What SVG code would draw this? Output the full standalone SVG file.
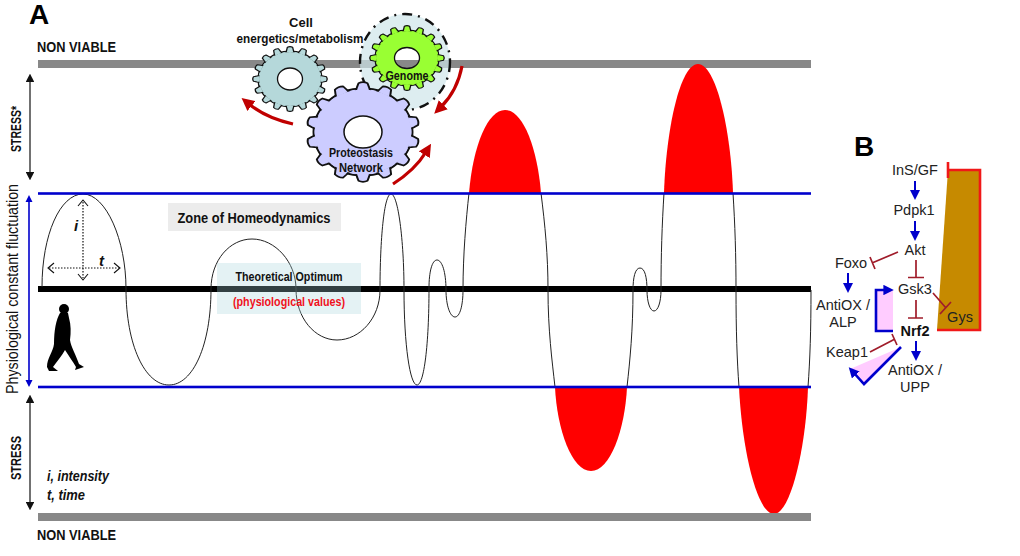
<svg xmlns="http://www.w3.org/2000/svg" xmlns:xlink="http://www.w3.org/1999/xlink" width="1020" height="556" viewBox="0 0 1020 556">
<style>
text{font-family:"Liberation Sans",Arial,sans-serif;fill:#111}
.b{font-weight:bold}.m{text-anchor:middle}
.lab{font-size:14.5px;fill:#222}
.curve{fill:none;stroke:#222;stroke-width:1}
.red{fill:#f00}
.blue{stroke:#0000cc;fill:none;stroke-width:2.6}
.arr{stroke:#0000cc;stroke-width:2;fill:none;marker-end:url(#mb)}
.inh{stroke:#a01c2a;stroke-width:1.7;fill:none}
.gearl{stroke:#111;stroke-width:1.3;stroke-linejoin:round}
.rarr{stroke:#c00000;stroke-width:3.2;fill:none;marker-end:url(#mr)}
.dbl{stroke:#111;stroke-width:1.2;fill:none;marker-start:url(#mk);marker-end:url(#mk)}
.dot{stroke:#111;stroke-width:1.2;stroke-dasharray:1.5 1.5;fill:none}
.letter{font-size:28px;font-weight:bold;fill:#000}
</style>
<defs>
<marker id="mb" markerWidth="5" markerHeight="5" refX="2" refY="2.5" orient="auto-start-reverse" markerUnits="strokeWidth"><path d="M0,0L5,2.5L0,5Z" fill="#0000cc"/></marker>
<marker id="mk" markerWidth="7" markerHeight="7" refX="5" refY="3.5" orient="auto-start-reverse" markerUnits="strokeWidth"><path d="M0,0L7,3.500L0,7Z" fill="#111"/></marker>
<marker id="mr" markerWidth="4" markerHeight="4" refX="1" refY="2" orient="auto" markerUnits="strokeWidth"><path d="M0,0L4,2L0,4Z" fill="#c00000"/></marker>
<marker id="mbl" markerWidth="4" markerHeight="4" refX="1" refY="2" orient="auto" markerUnits="strokeWidth"><path d="M0,0L4,2L0,4Z" fill="#0000cc"/></marker>
<path id="tooth" class="gearl" d="M-4,-30L-3.400,-33L-2.600,-36.500Q0,-38 2.600,-36.500L3.400,-33L4,-30Z"/>
<path id="toothw" class="gearl" d="M-4.800,-31L-4,-34L-3,-37Q0,-38.400 3,-37L4,-34L4.800,-31Z"/>
<g id="t16">
<use xlink:href="#tooth"/><use xlink:href="#tooth" transform="rotate(22.5)"/><use xlink:href="#tooth" transform="rotate(45)"/><use xlink:href="#tooth" transform="rotate(67.5)"/><use xlink:href="#tooth" transform="rotate(90)"/><use xlink:href="#tooth" transform="rotate(112.5)"/><use xlink:href="#tooth" transform="rotate(135)"/><use xlink:href="#tooth" transform="rotate(157.5)"/><use xlink:href="#tooth" transform="rotate(180)"/><use xlink:href="#tooth" transform="rotate(202.5)"/><use xlink:href="#tooth" transform="rotate(225)"/><use xlink:href="#tooth" transform="rotate(247.5)"/><use xlink:href="#tooth" transform="rotate(270)"/><use xlink:href="#tooth" transform="rotate(292.5)"/><use xlink:href="#tooth" transform="rotate(315)"/><use xlink:href="#tooth" transform="rotate(337.5)"/>
</g>
<g id="t14">
<use xlink:href="#toothw"/><use xlink:href="#toothw" transform="rotate(25.71)"/><use xlink:href="#toothw" transform="rotate(51.43)"/><use xlink:href="#toothw" transform="rotate(77.14)"/><use xlink:href="#toothw" transform="rotate(102.86)"/><use xlink:href="#toothw" transform="rotate(128.57)"/><use xlink:href="#toothw" transform="rotate(154.29)"/><use xlink:href="#toothw" transform="rotate(180)"/><use xlink:href="#toothw" transform="rotate(205.71)"/><use xlink:href="#toothw" transform="rotate(231.43)"/><use xlink:href="#toothw" transform="rotate(257.14)"/><use xlink:href="#toothw" transform="rotate(282.86)"/><use xlink:href="#toothw" transform="rotate(308.57)"/><use xlink:href="#toothw" transform="rotate(334.29)"/>
</g>
<clipPath id="hole2"><ellipse cx="407" cy="58" rx="12.500" ry="10.500"/></clipPath>
</defs>
<rect width="1020" height="556" fill="#fff"/>

<g id="bands">
<rect x="38" y="60" width="773" height="8" fill="#888"/>
<rect x="38" y="513" width="773" height="8" fill="#888"/>
<rect x="38" y="286" width="773" height="6" fill="#000"/>
</g>

<g id="zone">
<rect x="168" y="203" width="173" height="28" fill="#ececec"/>
<text class="b m" x="254" y="223" font-size="14.500" textLength="153" lengthAdjust="spacingAndGlyphs">Zone of Homeodynamics</text>
</g>

<g id="peaks">
<path class="red" d="M469,193C473,145 488,110 505,110C522,110 537,145 541,193Z"/>
<path class="red" d="M664,193C666,130 680,64 698,64C716,64 731,130 733,193Z"/>
<path class="red" d="M555,387C557,430 572,471 591,471C610,471 625,430 627,387Z"/>
<path class="red" d="M739,387C742,450 757,514 774,514C790,514 806,450 808,387Z"/>
<rect x="735" y="513" width="76" height="8" fill="#888"/>
</g>

<g id="fluctuation">
<path class="curve" d="M42,287C42,235 60,194 83,194C106,194 126,240 126,289C126,345 145,385 169,385C193,385 211,345 211,289C211,260 230,239 252,239C275,239 296,262 296,289C296,318 315,340 337,340C360,340 380,318 380,290C380,240 384,194 391,194C398,194 404,240 404,290C404,345 410,385 417,385C424,385 429,345 429,288C429,272 432,260 437,260C442,260 446,272 446,290C446,305 450,317 455,317C460,317 463,305 463,290C463,255 466,220 469,193"/>
<path class="curve" d="M541,193C545,225 548,255 548,290C548,330 552,360 555,387"/>
<path class="curve" d="M627,387C630,360 633,330 633,290C633,278 635,268 640,268C645,268 647,278 647,290C647,302 650,311 654,311C658,311 661,302 661,290C661,255 662,225 664,193"/>
<path class="curve" d="M733,193C735,225 736,255 736,290C736,330 737,360 739,387"/>
<path class="curve" d="M808,387C810,360 811,330 811,290"/>
</g>

<g id="optimum">
<rect x="217" y="263" width="144" height="51" fill="#a7d5dc" fill-opacity=".3"/>
<text class="b m" x="289" y="281" font-size="12.500" textLength="107" lengthAdjust="spacingAndGlyphs">Theoretical Optimum</text>
<text class="b m" x="289" y="306" font-size="12.500" textLength="112" lengthAdjust="spacingAndGlyphs" style="fill:#f01020">(physiological values)</text>
</g>

<g id="limits">
<rect x="38" y="192.200" width="773" height="2.600" fill="#0000cc"/>
<rect x="38" y="385.700" width="773" height="2.600" fill="#0000cc"/>
</g>

<g id="axes">
<path class="dbl" d="M30,76V178"/>
<path class="dbl" d="M30,397V508"/>
<path d="M29,198V382" stroke="#0000cc" stroke-width="1.600" fill="none"/>
<path d="M29,195L25.500,202H32.500Z M29,387L25.500,380H32.500Z" fill="#0000cc"/>
<text class="m b" transform="translate(21,129) rotate(-90)" font-size="15" textLength="46" lengthAdjust="spacingAndGlyphs">STRESS*</text>
<text class="m b" transform="translate(21,458) rotate(-90)" font-size="15" textLength="44" lengthAdjust="spacingAndGlyphs">STRESS</text>
<text class="m" transform="translate(18,289) rotate(-90)" font-size="16" textLength="210" lengthAdjust="spacingAndGlyphs">Physiological constant fluctuation</text>
</g>

<g id="scale">
<path class="dot" d="M83,202V278"/>
<path class="dot" d="M49,268H119"/>
<path d="M88,206L83,200L78,206M88,274L83,280L78,274M54,263L48,268L54,273M114,263L120,268L114,273" fill="none" stroke="#111" stroke-width="1.100"/>
<text x="74" y="231" font-size="15" font-style="italic" font-weight="bold">i</text>
<text x="99" y="266" font-size="15" font-style="italic" font-weight="bold">t</text>
</g>

<g id="walker">
<circle cx="64" cy="309" r="5" fill="#000"/>
<path d="M60,313C56,320 54,330 54,344C53,352 47,358 47,367L49,371L58,371L53,367C57,361 62,356 65,350C69,356 73,362 76,367L75,370L84,367L79,364C76,355 71,347 70,340C71,332 71,325 69,318L68,313Z" fill="#000"/>
</g>

<g id="notes">
<text class="b" x="37" y="52" font-size="14.500" textLength="79" lengthAdjust="spacingAndGlyphs">NON VIABLE</text>
<text class="b" x="37" y="540" font-size="14.500" textLength="79" lengthAdjust="spacingAndGlyphs">NON VIABLE</text>
<text x="47" y="481" font-size="14" font-style="italic" font-weight="bold" textLength="62" lengthAdjust="spacingAndGlyphs">i, intensity</text>
<text x="47" y="500" font-size="14" font-style="italic" font-weight="bold" textLength="38" lengthAdjust="spacingAndGlyphs">t, time</text>
<text class="letter" x="29" y="24">A</text>
<text class="letter" x="854" y="156">B</text>
</g>

<g id="genome">
<ellipse cx="405" cy="62" rx="45" ry="48" fill="#cfe6ea" fill-opacity=".7" stroke="#111" stroke-width="2.400" stroke-dasharray="10 6 2 6"/>
<g transform="translate(407,58) scale(1,.87)" fill="#99ff33">
<circle r="32" class="gearl"/><use xlink:href="#t16"/><circle r="31" stroke="none"/>
</g>
<ellipse cx="407" cy="58" rx="12.500" ry="10.500" fill="#fff"/>
<rect x="390" y="60" width="34" height="8" fill="#888" clip-path="url(#hole2)"/>
<ellipse cx="407" cy="58" rx="12.500" ry="10.500" fill="none" stroke="#111" stroke-width="1.300"/>
</g>

<g id="metabolism">
<g transform="translate(290,79) scale(1,.87)" fill="#b5d8da">
<circle r="32" class="gearl"/><use xlink:href="#t16"/><circle r="31" stroke="none"/>
</g>
<ellipse cx="290" cy="79" rx="12.500" ry="11" fill="#fff" stroke="#111" stroke-width="1.300"/>
<text class="b m" x="301" y="27" font-size="13">Cell</text>
<text class="b m" x="300" y="43" font-size="13" textLength="127" lengthAdjust="spacingAndGlyphs">energetics/metabolism</text>
</g>

<g id="proteostasis">
<g transform="translate(363,132) scale(1.5,1.32)" fill="#ccccff">
<circle r="33" class="gearl"/><use xlink:href="#t14"/><circle r="32.200" stroke="none"/>
</g>
<ellipse cx="363" cy="132" rx="19" ry="16" fill="#fff" stroke="#111" stroke-width="1.500"/>
<text class="b m" x="361" y="157" font-size="12.500" textLength="64" lengthAdjust="spacingAndGlyphs">Proteostasis</text>
<text class="b m" x="361" y="172" font-size="12.500" textLength="44" lengthAdjust="spacingAndGlyphs">Network</text>
</g>
<text class="b m" x="407" y="80" font-size="12.500" textLength="43" lengthAdjust="spacingAndGlyphs">Genome</text>

<g id="cycle-arrows">
<path class="rarr" d="M293,124C275,120 260,113 249,104"/>
<path class="rarr" d="M462,66C459,82 451,97 441,107"/>
<path class="rarr" d="M393,184C407,175 418,165 426,152"/>
</g>

<g id="panel-b-shapes">
<path d="M948,170H980V330H937Z" fill="#c68a00"/>
<path d="M948,162V178M948,170H980V330H937" fill="none" stroke="#f01818" stroke-width="2.600"/>
<rect x="876" y="290" width="17" height="41" fill="#ffccff"/>
<path d="M901,347L850,369L864,384Z" fill="#ffccff"/>
</g>

<g id="InS-GF"><text class="lab m" x="915" y="175">InS/GF</text></g>
<g id="Pdpk1"><text class="lab m" x="914" y="215">Pdpk1</text></g>
<g id="Akt"><text class="lab m" x="915" y="255">Akt</text></g>
<g id="Foxo"><text class="lab m" x="851" y="268">Foxo</text></g>
<g id="Gsk3"><text class="lab m" x="915" y="294">Gsk3</text></g>
<g id="Gys"><text class="lab m" x="960" y="322">Gys</text></g>
<g id="Nrf2"><text class="lab m b" x="915" y="336" style="fill:#111">Nrf2</text></g>
<g id="AntiOX-ALP"><text class="lab m" x="843" y="310">AntiOX /</text><text class="lab m" x="843" y="327">ALP</text></g>
<g id="Keap1"><text class="lab m" x="847" y="357">Keap1</text></g>
<g id="AntiOX-UPP"><text class="lab m" x="915" y="375">AntiOX /</text><text class="lab m" x="915" y="392">UPP</text></g>

<g id="connectors">
<path class="arr" d="M915,181V194"/>
<path class="arr" d="M915,221V235"/>
<path class="arr" d="M848,273V287"/>
<path class="arr" d="M916,341V355"/>
<path class="blue" d="M893,331H876V290H886" marker-end="url(#mbl)"/>
<path class="blue" d="M901,347L864,384L854,373" marker-end="url(#mbl)"/>
<path class="inh" d="M898,252L872,263M870,257L875,269"/>
<path class="inh" d="M916,260V277.500M908,277.500H924"/>
<path class="inh" d="M916,300V318M908,318H923"/>
<path class="inh" d="M933,293L946,308M940,314L951,302"/>
<path class="inh" d="M870,352L895,339M892,334L897,345"/>
</g>
</svg>
